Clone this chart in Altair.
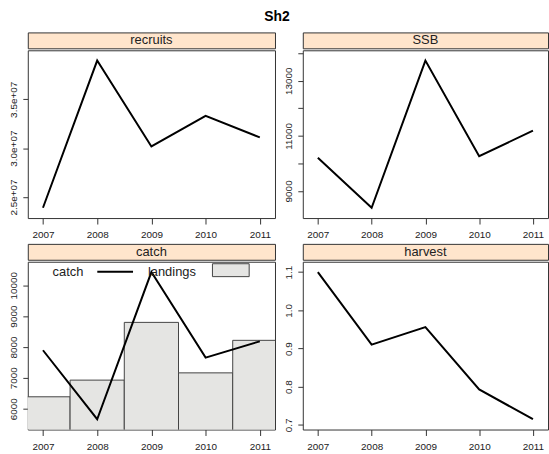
import altair as alt
import pandas as pd

# Stock summary values by year
years = [2007, 2008, 2009, 2010, 2011]
recruits = [2.389e7, 3.897e7, 3.017e7, 3.330e7, 3.110e7]
ssb = [10200, 8387, 13732, 10261, 11187]
catch = [7894, 5659, 10428, 7656, 8183]
landings = [6386, 6926, 8797, 7161, 8215]
harvest = [1.100, 0.910, 0.956, 0.793, 0.715]

# Axis tick positions per panel
recruit_ticks = [2.5e7, 3.0e7, 3.5e7]
ssb_ticks = [8000, 9000, 10000, 11000, 12000, 13000, 14000]
catch_ticks = [6000, 7000, 8000, 9000, 10000]
harvest_ticks = [0.7, 0.8, 0.9, 1.0, 1.1]
legend_labels = ["catch", "landings"]

FONT = "Liberation Sans"
INK = "#222222"
FRAME = "#333333"
STRIP_FILL = "#ffe5cc"
PAD = 0.07          # lattice-style axis padding
W_LEFT, W_RIGHT, H, STRIP_H = 249, 247, 169, 16

df = pd.DataFrame({
    "year": years, "recruits": recruits, "ssb": ssb,
    "catch": catch, "landings": landings, "harvest": harvest,
})
df["lo"] = df["year"] - 0.5
df["hi"] = df["year"] + 0.5


def padded(values):
    lo, hi = min(values), max(values)
    r = hi - lo
    return [lo - PAD * r, hi + PAD * r]


x_enc = alt.X(
    "year:Q",
    scale=alt.Scale(domain=padded(years), nice=False, zero=False),
    axis=alt.Axis(values=years, format="d", tickSize=6, labelPadding=6),
    title=None,
)


def y_enc(field, values, ticks, label_expr):
    return alt.Y(
        f"{field}:Q",
        scale=alt.Scale(domain=padded(values), nice=False, zero=False),
        axis=alt.Axis(values=ticks, labelExpr=label_expr, labelAngle=270,
                      tickSize=5, labelPadding=4, labelOverlap=False),
        title=None,
    )


def line(field, values, ticks, label_expr):
    return alt.Chart(df).mark_line(color="black", strokeWidth=2, clip=True).encode(
        x=x_enc, y=y_enc(field, values, ticks, label_expr)
    )


def strip(name, w):
    return alt.Chart(pd.DataFrame({"panel": [name]})).mark_text(
        font=FONT, fontSize=13, color=INK, baseline="middle"
    ).encode(text="panel:N").properties(
        width=w, height=STRIP_H,
        view=alt.ViewBackground(fill=STRIP_FILL, stroke=FRAME, strokeWidth=1),
    )


def panel(name, body, w):
    return alt.vconcat(strip(name, w), body.properties(width=w, height=H), spacing=0)


recruits_plot = line("recruits", recruits, recruit_ticks,
                     "replace(format(datum.value, '.1e'), 'e+7', 'e+07')")
ssb_plot = line("ssb", ssb, ssb_ticks,
                "datum.value % 2000 == 1000 ? format(datum.value, 'd') : ''")
harvest_plot = line("harvest", harvest, harvest_ticks, "format(datum.value, '.1f')")

# catch panel: landings as year-wide bars, catch as a line, plus an in-panel key
landing_bars = alt.Chart(df).mark_rect(
    fill="#e5e5e3", stroke="#444444", strokeWidth=1, clip=True
).encode(
    x=alt.X("lo:Q", scale=alt.Scale(domain=padded(years), nice=False, zero=False),
            axis=alt.Axis(values=years, format="d", tickSize=6, labelPadding=6),
            title=None),
    x2="hi:Q",
    y=y_enc("landings", catch, catch_ticks, "format(datum.value, 'd')"),
    y2=alt.datum(0),
)
catch_line = line("catch", catch, catch_ticks, "format(datum.value, 'd')")

key_text_style = dict(font=FONT, fontSize=13, color=INK, align="left", baseline="middle")
key_catch = alt.Chart(pd.DataFrame({"label": [legend_labels[0]]})).mark_text(
    **key_text_style).encode(text="label:N", x=alt.value(25), y=alt.value(10))
key_line = alt.Chart(pd.DataFrame({"label": [legend_labels[0]]})).mark_rule(
    color="black", strokeWidth=2).encode(x=alt.value(70), x2=alt.value(106), y=alt.value(10))
key_landings = alt.Chart(pd.DataFrame({"label": [legend_labels[1]]})).mark_text(
    **key_text_style).encode(text="label:N", x=alt.value(121), y=alt.value(10))
key_box = alt.Chart(pd.DataFrame({"label": [legend_labels[1]]})).mark_rect(
    fill="#e5e5e3", stroke="#444444", strokeWidth=1).encode(
    x=alt.value(186), x2=alt.value(223), y=alt.value(2), y2=alt.value(15))

catch_plot = alt.layer(landing_bars, catch_line, key_catch, key_line, key_landings, key_box)

top_row = alt.hconcat(
    panel("recruits", recruits_plot, W_LEFT),
    panel("SSB", ssb_plot, W_RIGHT),
    spacing=4,
)
bottom_row = alt.hconcat(
    panel("catch", catch_plot, W_LEFT),
    panel("harvest", harvest_plot, W_RIGHT),
    spacing=4,
)

chart = alt.vconcat(top_row, bottom_row, spacing=2).properties(
    title=alt.Title("Sh2", anchor="middle", font=FONT, fontSize=14,
                    fontWeight="bold", color="black", offset=8),
    padding={"left": 5, "top": 8, "right": 0, "bottom": 0},
    background="white",
).configure_view(
    stroke=FRAME, strokeWidth=1
).configure_axis(
    domain=False, grid=False, tickColor=FRAME, labelColor=INK,
    labelFont=FONT, labelFontSize=10, minExtent=22, maxExtent=22,
)

chart.save("out.html", embed_options={"renderer": "svg", "actions": False})
